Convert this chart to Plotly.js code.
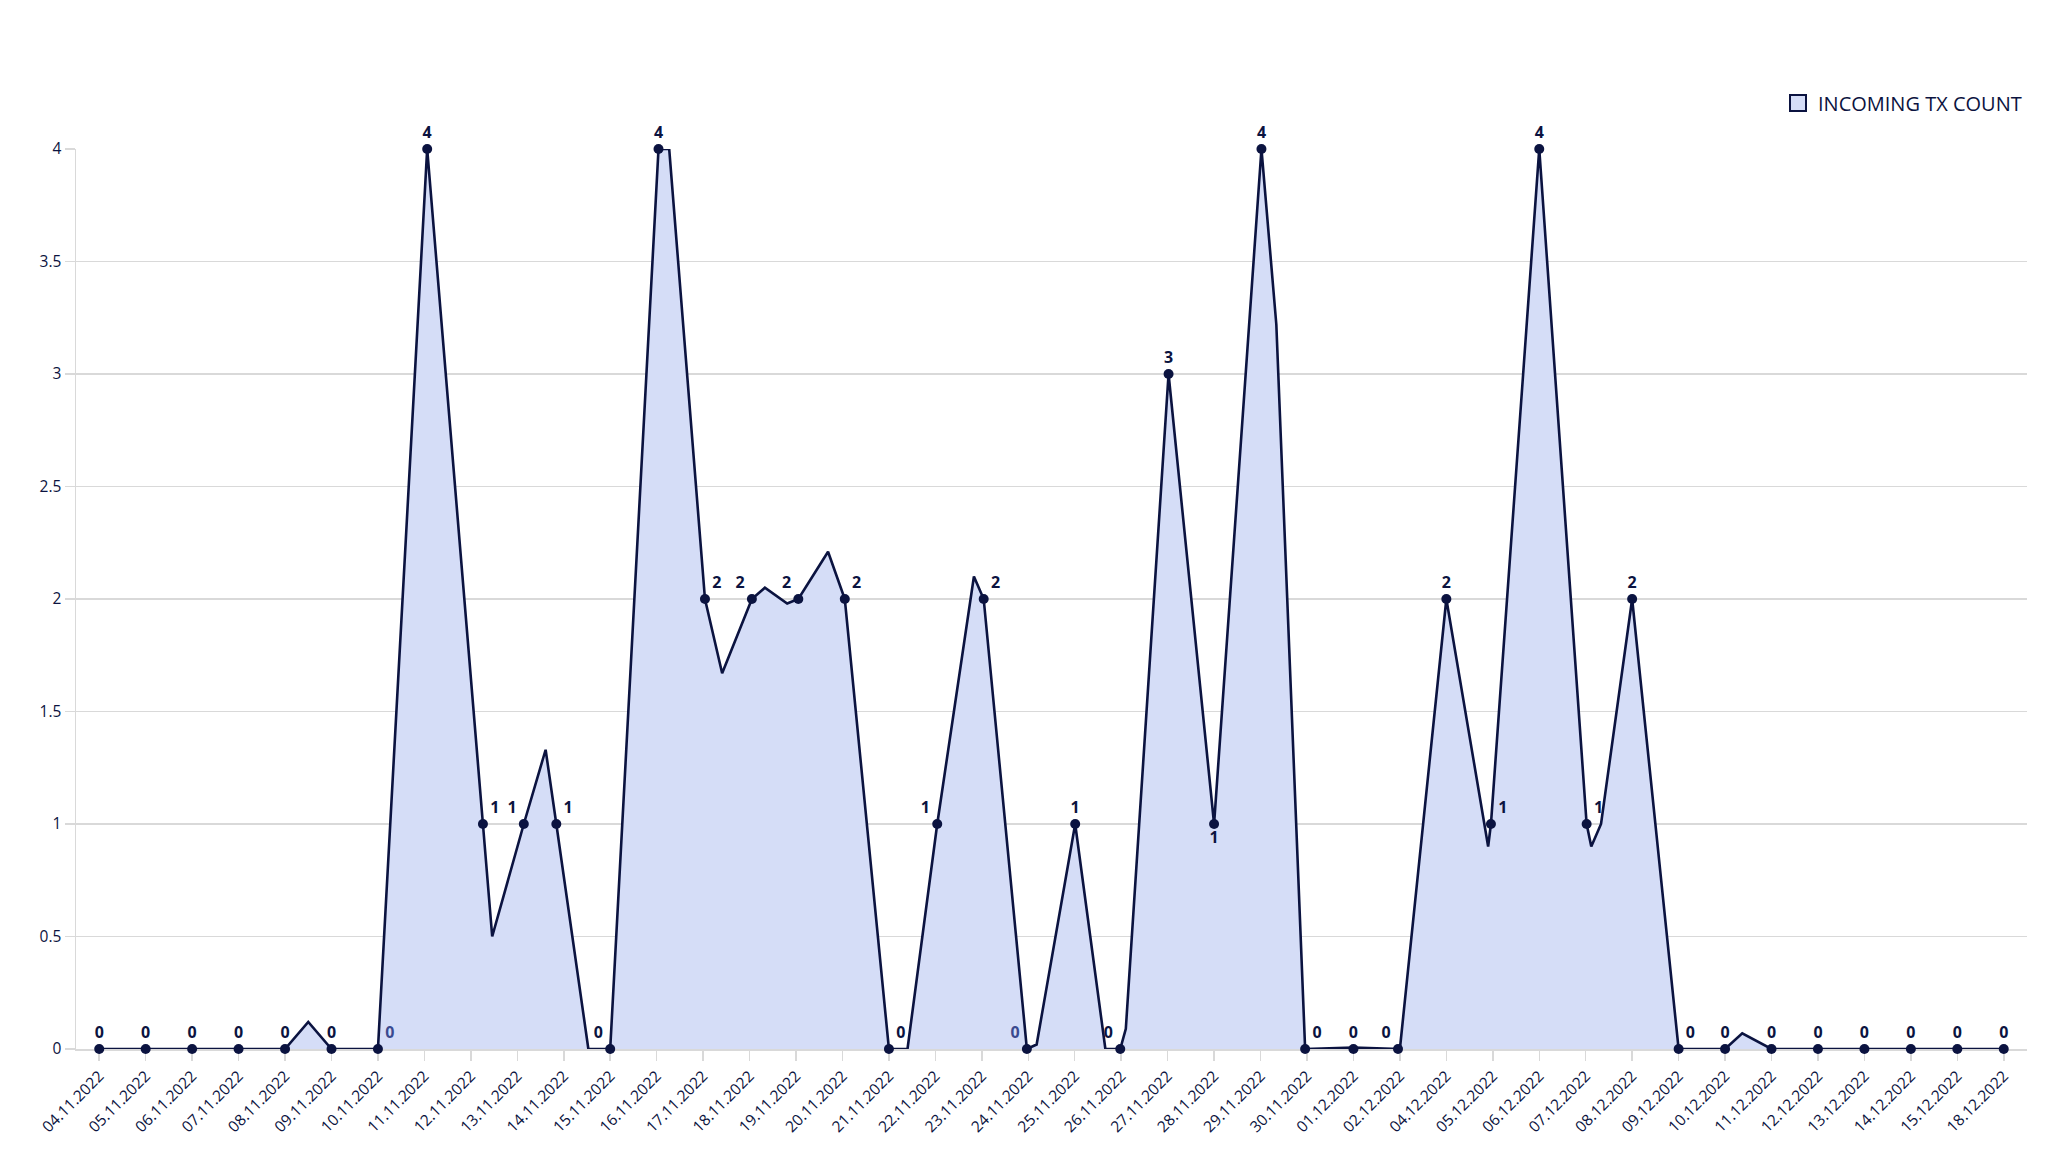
<!DOCTYPE html>
<html>
<head>
<meta charset="utf-8">
<script src="https://cdn.plot.ly/plotly-3.0.1.min.js"></script>
<style>
  html, body { margin: 0; padding: 0; background: #ffffff; }
  #chart { width: 2048px; height: 1152px; }
</style>
</head>
<body>
<div id="chart"></div>
<script>
// ---- Data ----
const dates = [
  '04.11.2022','05.11.2022','06.11.2022','07.11.2022','08.11.2022','09.11.2022','10.11.2022',
  '11.11.2022','12.11.2022','13.11.2022','14.11.2022','15.11.2022','16.11.2022','17.11.2022',
  '18.11.2022','19.11.2022','20.11.2022','21.11.2022','22.11.2022','23.11.2022','24.11.2022',
  '25.11.2022','26.11.2022','27.11.2022','28.11.2022','29.11.2022','30.11.2022','01.12.2022',
  '02.12.2022','04.12.2022','05.12.2022','06.12.2022','07.12.2022','08.12.2022','09.12.2022',
  '10.12.2022','11.12.2022','12.12.2022','13.12.2022','14.12.2022','15.12.2022','18.12.2022'
];

// Incoming transaction count per day (labelled points)
const txCount = [
  0,0,0,0,0,0,0,
  4,1,1,1,0,4,2,
  2,2,2,0,1,2,0,
  1,0,3,1,4,0,0,
  0,2,1,4,1,2,0,
  0,0,0,0,0,0,0
];

// Where each labelled point sits along the day axis (day index, as drawn)
const txDayPos = [
  0,1,2,3,4,5,6,
  7.06,8.26,9.14,9.84,11,12.04,13.04,
  14.05,15.05,16.05,17,18.04,19.04,19.97,
  21.01,21.98,23.02,24,25.02,25.96,27,
  27.96,29,29.96,31,32.02,33,34,
  35,36,37,38,39,40,41
];

// The area outline as drawn (day index / value), including its in-between vertices
const outlineDay = [
  0,1,2,3,4,4.5,5,6,
  7.06,8.26,8.46,9.14,9.61,9.84,10.53,11,
  12.04,12.27,13.04,13.41,14.05,14.33,14.81,15.05,15.69,16.05,
  17,17.40,18.04,18.83,19.04,19.97,20.18,21.01,21.66,21.98,22.10,
  23.02,24,25.02,25.34,25.96,27,28,
  29,29.90,29.96,31,32.02,32.12,32.33,33,
  34,35,35.37,36,37,38,39,40,41
];
const outlineValue = [
  0,0,0,0,0,0.12,0,0,
  4,1,0.5,1,1.33,1,0,0,
  4,4,2,1.67,2,2.05,1.98,2,2.21,2,
  0,0,1,2.10,2,0,0.02,1,0,0,0.09,
  3,1,4,3.22,0,0.006,0,
  2,0.90,1,4,1,0.90,1,2,
  0,0,0.07,0,0,0,0,0,0
];

const seriesName = 'INCOMING TX COUNT';

// ---- Styling ----
const NAVY = '#0b1340';
const FILL = '#d5ddf7';
const GRID = '#d9d9d9';
const FONT = 'Open Sans, Lato, sans-serif';

const labelPos = txCount.map(() => 'top center');
const setPos = (day, p) => { labelPos[dates.indexOf(day)] = p; };
setPos('10.11.2022','top right');
setPos('12.11.2022','top right');
setPos('13.11.2022','top left');
setPos('14.11.2022','top right');
setPos('15.11.2022','top left');
setPos('17.11.2022','top right');
setPos('18.11.2022','top left');
setPos('19.11.2022','top left');
setPos('20.11.2022','top right');
setPos('21.11.2022','top right');
setPos('22.11.2022','top left');
setPos('23.11.2022','top right');
setPos('24.11.2022','top left');
setPos('26.11.2022','top left');
setPos('28.11.2022','bottom center');
setPos('30.11.2022','top right');
setPos('02.12.2022','top left');
setPos('05.12.2022','top right');
setPos('07.12.2022','top right');
setPos('09.12.2022','top right');

const labelColor = txCount.map(() => NAVY);
labelColor[dates.indexOf('10.11.2022')] = '#3b4a8f';
labelColor[dates.indexOf('24.11.2022')] = '#3b4a8f';

const dayIndex = dates.map((d, i) => i);

const traces = [
  {
    type: 'scatter',
    mode: 'lines',
    x: outlineDay,
    y: outlineValue,
    fill: 'tozeroy',
    fillcolor: FILL,
    line: { color: NAVY, width: 2.6, shape: 'linear' },
    cliponaxis: false,
    showlegend: false,
    hoverinfo: 'skip'
  },
  {
    type: 'scatter',
    mode: 'markers+text',
    x: txDayPos,
    y: txCount,
    text: txCount.map(String),
    textposition: labelPos,
    textfont: { family: FONT, size: 16, color: labelColor, weight: 700 },
    marker: { color: NAVY, size: 10 },
    cliponaxis: false,
    showlegend: false
  },
  {
    type: 'scatter',
    mode: 'markers',
    name: seriesName,
    x: [-10],
    y: [-10],
    marker: { symbol: 'square', size: 18, color: FILL, line: { color: NAVY, width: 2 } },
    showlegend: true
  }
];

const layout = {
  width: 2048,
  height: 1152,
  paper_bgcolor: '#ffffff',
  plot_bgcolor: '#ffffff',
  margin: { l: 76, r: 21, t: 149, b: 103 },
  font: { family: FONT, color: NAVY },
  showlegend: true,
  legend: {
    x: 1, xanchor: 'right',
    y: 1.051, yanchor: 'middle',
    orientation: 'h',
    font: { family: FONT, size: 20, color: NAVY },
    bgcolor: 'rgba(0,0,0,0)'
  },
  xaxis: {
    type: 'linear',
    range: [-0.5, 41.5],
    tickmode: 'array',
    tickvals: dayIndex,
    ticktext: dates,
    tickangle: -45,
    tickfont: { family: FONT, size: 15.5, color: NAVY },
    ticks: 'outside',
    ticklen: 10,
    tickcolor: GRID,
    tickwidth: 1.5,
    showgrid: false,
    zeroline: false,
    showline: true,
    linecolor: GRID,
    linewidth: 2,
    layer: 'below traces',
    fixedrange: true
  },
  yaxis: {
    range: [0, 4],
    tickmode: 'linear',
    tick0: 0,
    dtick: 0.5,
    tickfont: { family: FONT, size: 15.5, color: NAVY },
    ticks: 'outside',
    ticklen: 10,
    tickcolor: GRID,
    tickwidth: 1.5,
    showgrid: true,
    gridcolor: GRID,
    gridwidth: 1.5,
    zeroline: false,
    showline: true,
    linecolor: GRID,
    linewidth: 1.5,
    layer: 'below traces',
    fixedrange: true
  }
};

Plotly.newPlot('chart', traces, layout, { displayModeBar: false, staticPlot: true });
</script>
</body>
</html>
